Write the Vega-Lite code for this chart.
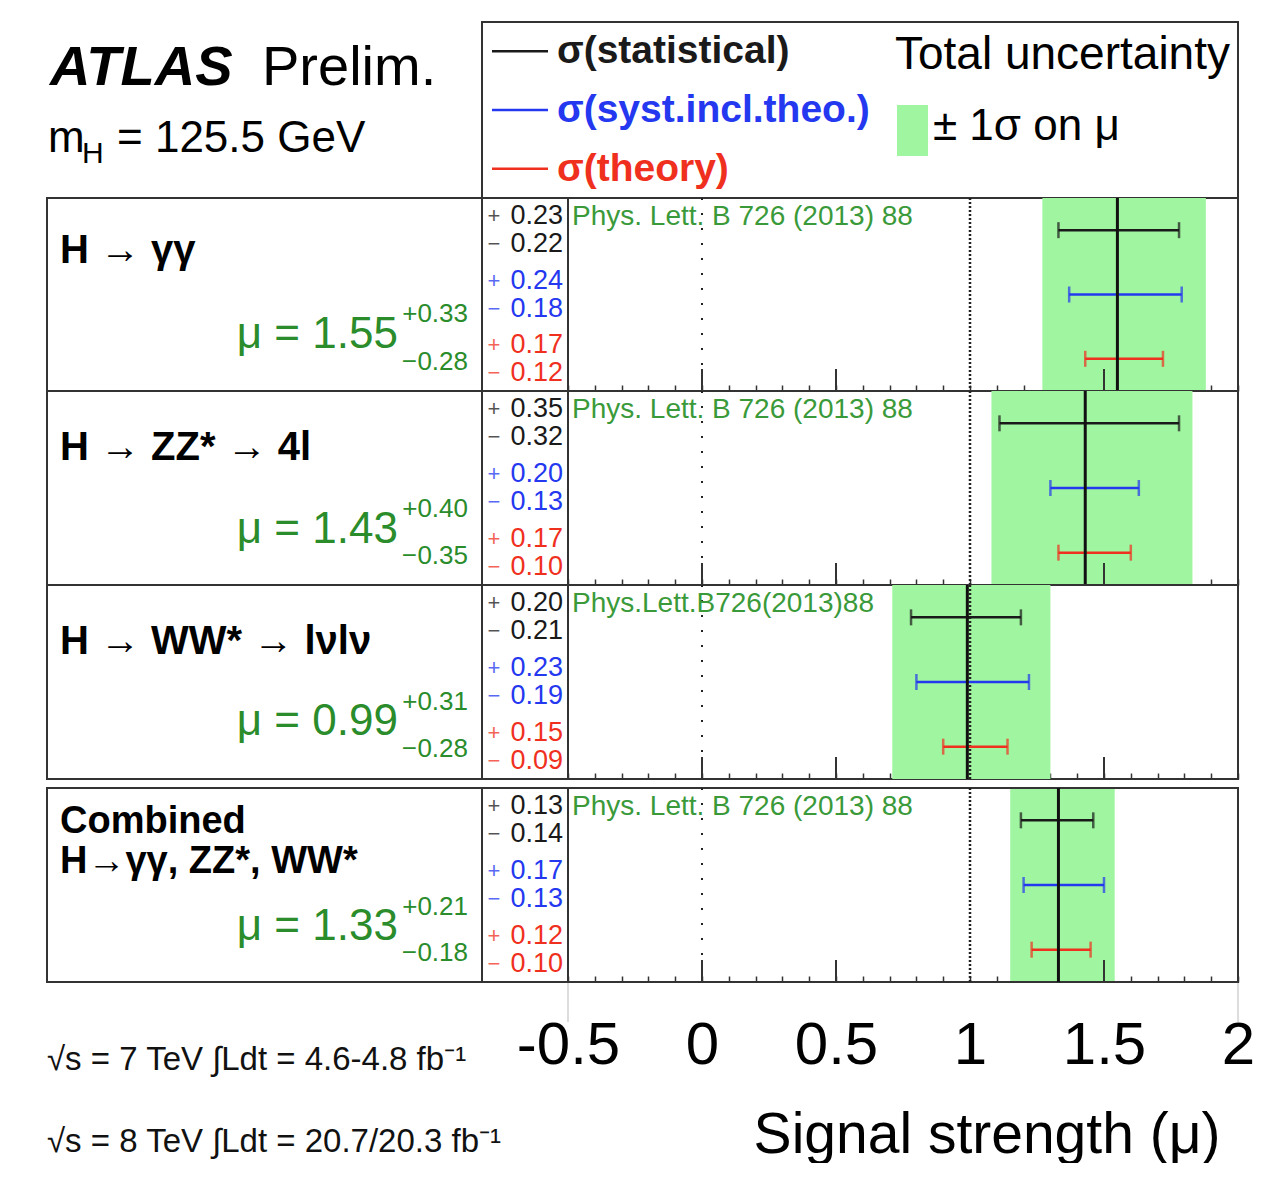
{
"$schema": "https://vega.github.io/schema/vega-lite/v6.json",
"background": "white",
"padding": {"left": 46, "top": 21, "right": 0, "bottom": 0},
"config": {"font": "Liberation Sans", "view": {"stroke": "#333", "strokeWidth": 2}},
"datasets": {
 "mu": [
  {"ch": "gg", "label": "H → γγ", "mu": 1.55, "up": 0.33, "dn": 0.28, "lo": 1.27, "hi": 1.88, "ref": "Phys. Lett. B 726 (2013) 88"},
  {"ch": "zz", "label": "H → ZZ* → 4l", "mu": 1.43, "up": 0.40, "dn": 0.35, "lo": 1.08, "hi": 1.83, "ref": "Phys. Lett. B 726 (2013) 88"},
  {"ch": "ww", "label": "H → WW* → lνlν", "mu": 0.99, "up": 0.31, "dn": 0.28, "lo": 0.71, "hi": 1.30, "ref": "Phys.Lett.B726(2013)88"},
  {"ch": "comb", "label": ["Combined", "H→γγ, ZZ*, WW*"], "mu": 1.33, "up": 0.21, "dn": 0.18, "lo": 1.15, "hi": 1.54, "ref": "Phys. Lett. B 726 (2013) 88"}
 ],
 "err": [
  {"ch": "gg", "type": "stat", "up": 0.23, "dn": 0.22, "lo": 1.33, "hi": 1.78},
  {"ch": "gg", "type": "syst", "up": 0.24, "dn": 0.18, "lo": 1.37, "hi": 1.79},
  {"ch": "gg", "type": "theory", "up": 0.17, "dn": 0.12, "lo": 1.43, "hi": 1.72},
  {"ch": "zz", "type": "stat", "up": 0.35, "dn": 0.32, "lo": 1.11, "hi": 1.78},
  {"ch": "zz", "type": "syst", "up": 0.20, "dn": 0.13, "lo": 1.30, "hi": 1.63},
  {"ch": "zz", "type": "theory", "up": 0.17, "dn": 0.10, "lo": 1.33, "hi": 1.60},
  {"ch": "ww", "type": "stat", "up": 0.20, "dn": 0.21, "lo": 0.78, "hi": 1.19},
  {"ch": "ww", "type": "syst", "up": 0.23, "dn": 0.19, "lo": 0.80, "hi": 1.22},
  {"ch": "ww", "type": "theory", "up": 0.15, "dn": 0.09, "lo": 0.90, "hi": 1.14},
  {"ch": "comb", "type": "stat", "up": 0.13, "dn": 0.14, "lo": 1.19, "hi": 1.46},
  {"ch": "comb", "type": "syst", "up": 0.17, "dn": 0.13, "lo": 1.20, "hi": 1.50},
  {"ch": "comb", "type": "theory", "up": 0.12, "dn": 0.10, "lo": 1.23, "hi": 1.45}
 ],
 "legend": [
  {"type": "stat", "name": "σ(statistical)"},
  {"type": "syst", "name": "σ(syst.incl.theo.)"},
  {"type": "theory", "name": "σ(theory)"}
 ]
},
"spacing": 0,
"bounds": "flush",
"vconcat": [
 {"width": 1191, "height": 176, "view": {"stroke": null},
  "layer": [
   {"data": {"values": [{}]}, "mark": {"type": "rect", "fill": null, "stroke": "#333", "strokeWidth": 2}, "encoding": {"x": {"value": 435}, "x2": {"value": 1191}, "y": {"value": 0}, "y2": {"value": 176}}},
   {"data": {"values": [{}]}, "mark": {"type": "text", "text": "ATLAS", "fontSize": 56, "fontWeight": "bold", "fontStyle": "italic", "align": "left", "baseline": "alphabetic", "color": "black"}, "encoding": {"x": {"value": 3}, "y": {"value": 63}}},
   {"data": {"values": [{}]}, "mark": {"type": "text", "text": "Prelim.", "fontSize": 56, "align": "left", "baseline": "alphabetic", "color": "black"}, "encoding": {"x": {"value": 215}, "y": {"value": 63}}},
   {"data": {"values": [{}]}, "mark": {"type": "text", "text": "m", "fontSize": 44, "align": "left", "baseline": "alphabetic", "color": "black"}, "encoding": {"x": {"value": 1}, "y": {"value": 130}}},
   {"data": {"values": [{}]}, "mark": {"type": "text", "text": "H", "fontSize": 30, "align": "left", "baseline": "alphabetic", "color": "black"}, "encoding": {"x": {"value": 35}, "y": {"value": 141}}},
   {"data": {"values": [{}]}, "mark": {"type": "text", "text": "= 125.5 GeV", "fontSize": 44, "align": "left", "baseline": "alphabetic", "color": "black"}, "encoding": {"x": {"value": 70}, "y": {"value": 130}}},
   {"data": {"name": "legend"}, "mark": {"type": "rule", "strokeWidth": 2.5}, "encoding": {"x": {"value": 445}, "x2": {"value": 501}, "y": {"field": "type", "type": "nominal", "scale": {"domain": ["stat", "syst", "theory"], "paddingInner": 0, "paddingOuter": 0}, "axis": null}, "color": {"field": "type", "type": "nominal", "scale": {"domain": ["stat", "syst", "theory"], "range": ["#1a1a1a", "#2438f0", "#f0301e"]}, "legend": null}}},
   {"data": {"name": "legend"}, "mark": {"type": "text", "fontSize": 39, "fontWeight": "bold", "align": "left", "baseline": "middle"}, "encoding": {"x": {"value": 510}, "y": {"field": "type", "type": "nominal", "axis": null}, "text": {"field": "name"}, "color": {"field": "type", "type": "nominal", "legend": null}}},
   {"data": {"values": [{}]}, "mark": {"type": "text", "text": "Total uncertainty", "fontSize": 46, "align": "left", "baseline": "middle", "color": "black"}, "encoding": {"x": {"value": 848}, "y": {"value": 33}}},
   {"data": {"values": [{}]}, "mark": {"type": "rect", "color": "#a0f5a0"}, "encoding": {"x": {"value": 850}, "x2": {"value": 881}, "y": {"value": 83}, "y2": {"value": 134}}},
   {"data": {"values": [{}]}, "mark": {"type": "text", "text": "± 1σ on μ", "fontSize": 44, "align": "left", "baseline": "middle", "color": "black"}, "encoding": {"x": {"value": 886}, "y": {"value": 105}}}
  ]},
 {"width": 1191, "height": 193,
  "layer": [
   {"data": {"name": "mu"}, "transform": [{"filter": "datum.ch === 'gg'"}], "mark": {"type": "rect", "color": "#a0f5a0"}, "encoding": {"x": {"field": "lo", "type": "quantitative", "scale": {"domain": [-0.5, 2], "range": [521, 1191], "nice": false, "zero": false}, "axis": {"orient": "bottom", "values": [-0.5,-0.4,-0.3,-0.2,-0.1,0,0.1,0.2,0.3,0.4,0.5,0.6,0.7,0.8,0.9,1,1.1,1.2,1.3,1.4,1.5,1.6,1.7,1.8,1.9,2], "tickCount": 30, "tickSize": -6, "tickWidth": 1.5, "tickColor": "#333", "labels": false, "domain": false, "grid": false, "title": null}}, "x2": {"field": "hi"}}},
   {"data": {"values": [{}]}, "mark": {"type": "rule", "color": "#333", "strokeWidth": 2}, "encoding": {"x": {"value": 435}, "y": {"value": 0}, "y2": {"value": 193}}},
   {"data": {"values": [{}]}, "mark": {"type": "rule", "color": "#333", "strokeWidth": 2}, "encoding": {"x": {"value": 521}, "y": {"value": 0}, "y2": {"value": 193}}},
   {"data": {"values": [{}]}, "mark": {"type": "rule", "color": "#222", "strokeWidth": 2, "strokeDash": [2, 13]}, "encoding": {"x": {"datum": 0, "type": "quantitative"}}},
   {"data": {"values": [{}]}, "mark": {"type": "rule", "color": "#333", "strokeWidth": 2}, "encoding": {"x": {"datum": 0, "type": "quantitative"}, "y": {"value": 171}, "y2": {"value": 193}}},
   {"data": {"values": [{}]}, "mark": {"type": "rule", "color": "#333", "strokeWidth": 2}, "encoding": {"x": {"datum": 0.5, "type": "quantitative"}, "y": {"value": 171}, "y2": {"value": 193}}},
   {"data": {"values": [{}]}, "mark": {"type": "rule", "color": "#333", "strokeWidth": 2}, "encoding": {"x": {"datum": 1.5, "type": "quantitative"}, "y": {"value": 171}, "y2": {"value": 193}}},
   {"data": {"values": [{}]}, "mark": {"type": "rule", "color": "#222", "strokeWidth": 2.5, "strokeDash": [2, 2]}, "encoding": {"x": {"datum": 1, "type": "quantitative"}}},
   {"data": {"name": "err"}, "transform": [{"filter": "datum.ch === 'gg'"}], "mark": {"type": "rule", "strokeWidth": 2.5}, "encoding": {"x": {"field": "lo", "type": "quantitative"}, "x2": {"field": "hi"}, "y": {"field": "type", "type": "nominal", "scale": {"domain": ["stat", "syst", "theory"], "paddingInner": 0, "paddingOuter": 0}, "axis": null}, "color": {"field": "type", "type": "nominal", "scale": {"domain": ["stat", "syst", "theory"], "range": ["#1a1a1a", "#2438f0", "#f0301e"]}, "legend": null}}},
   {"data": {"name": "err"}, "transform": [{"filter": "datum.ch === 'gg'"}], "mark": {"type": "tick", "thickness": 2.5, "size": 16}, "encoding": {"x": {"field": "lo", "type": "quantitative"}, "y": {"field": "type", "type": "nominal", "axis": null}, "color": {"field": "type", "type": "nominal", "legend": null}}},
   {"data": {"name": "err"}, "transform": [{"filter": "datum.ch === 'gg'"}], "mark": {"type": "tick", "thickness": 2.5, "size": 16}, "encoding": {"x": {"field": "hi", "type": "quantitative"}, "y": {"field": "type", "type": "nominal", "axis": null}, "color": {"field": "type", "type": "nominal", "legend": null}}},
   {"data": {"name": "mu"}, "transform": [{"filter": "datum.ch === 'gg'"}], "mark": {"type": "rule", "color": "#111", "strokeWidth": 3}, "encoding": {"x": {"field": "mu", "type": "quantitative"}}},
   {"data": {"name": "mu"}, "transform": [{"filter": "datum.ch === 'gg'"}], "mark": {"type": "text", "align": "left", "baseline": "middle", "dx": 4, "fontSize": 28, "color": "#3a9a3a"}, "encoding": {"x": {"datum": -0.5, "type": "quantitative"}, "y": {"value": 19}, "text": {"field": "ref"}}},
   {"data": {"name": "err"}, "transform": [{"filter": "datum.ch === 'gg'"}], "mark": {"type": "text", "align": "center", "baseline": "middle", "fontSize": 22, "opacity": 0.75, "dy": -14}, "encoding": {"x": {"value": 447}, "y": {"field": "type", "type": "nominal", "axis": null}, "text": {"value": "+"}, "color": {"field": "type", "type": "nominal", "legend": null}}},
   {"data": {"name": "err"}, "transform": [{"filter": "datum.ch === 'gg'"}], "mark": {"type": "text", "align": "center", "baseline": "middle", "fontSize": 22, "opacity": 0.75, "dy": 14}, "encoding": {"x": {"value": 447}, "y": {"field": "type", "type": "nominal", "axis": null}, "text": {"value": "−"}, "color": {"field": "type", "type": "nominal", "legend": null}}},
   {"data": {"name": "err"}, "transform": [{"filter": "datum.ch === 'gg'"}], "mark": {"type": "text", "align": "right", "baseline": "middle", "fontSize": 27, "dy": -14}, "encoding": {"x": {"value": 516}, "y": {"field": "type", "type": "nominal", "axis": null}, "text": {"field": "up", "type": "quantitative", "format": ".2f"}, "color": {"field": "type", "type": "nominal", "legend": null}}},
   {"data": {"name": "err"}, "transform": [{"filter": "datum.ch === 'gg'"}], "mark": {"type": "text", "align": "right", "baseline": "middle", "fontSize": 27, "dy": 14}, "encoding": {"x": {"value": 516}, "y": {"field": "type", "type": "nominal", "axis": null}, "text": {"field": "dn", "type": "quantitative", "format": ".2f"}, "color": {"field": "type", "type": "nominal", "legend": null}}},
   {"data": {"name": "mu"}, "transform": [{"filter": "datum.ch === 'gg'"}], "mark": {"type": "text", "align": "left", "baseline": "alphabetic", "fontSize": 40, "fontWeight": "bold", "color": "black", "lineHeight": 40}, "encoding": {"x": {"value": 13}, "y": {"value": 65}, "text": {"field": "label"}}},
   {"data": {"name": "mu"}, "transform": [{"filter": "datum.ch === 'gg'"}], "mark": {"type": "text", "align": "right", "baseline": "alphabetic", "fontSize": 44, "color": "#2a8c2a"}, "encoding": {"x": {"value": 253}, "y": {"value": 150}, "text": {"value": "μ ="}}},
   {"data": {"name": "mu"}, "transform": [{"filter": "datum.ch === 'gg'"}], "mark": {"type": "text", "align": "right", "baseline": "alphabetic", "fontSize": 44, "color": "#2a8c2a"}, "encoding": {"x": {"value": 351}, "y": {"value": 150}, "text": {"field": "mu", "type": "quantitative", "format": ".2f"}}},
   {"data": {"name": "mu"}, "transform": [{"filter": "datum.ch === 'gg'"}], "mark": {"type": "text", "align": "right", "baseline": "alphabetic", "fontSize": 26, "color": "#2a8c2a"}, "encoding": {"x": {"value": 421}, "y": {"value": 124}, "text": {"field": "up", "type": "quantitative", "format": "+.2f"}}},
   {"data": {"name": "mu"}, "transform": [{"filter": "datum.ch === 'gg'"}], "mark": {"type": "text", "align": "right", "baseline": "alphabetic", "fontSize": 26, "color": "#2a8c2a"}, "encoding": {"x": {"value": 421}, "y": {"value": 172}, "text": {"field": "dn", "type": "quantitative", "format": ".2f"}}},
   {"data": {"name": "mu"}, "transform": [{"filter": "datum.ch === 'gg'"}], "mark": {"type": "text", "align": "right", "baseline": "alphabetic", "fontSize": 26, "color": "#2a8c2a"}, "encoding": {"x": {"value": 370}, "y": {"value": 172}, "text": {"value": "−"}}}
  ]},
 {"width": 1191, "height": 194,
  "layer": [
   {"data": {"name": "mu"}, "transform": [{"filter": "datum.ch === 'zz'"}], "mark": {"type": "rect", "color": "#a0f5a0"}, "encoding": {"x": {"field": "lo", "type": "quantitative", "scale": {"domain": [-0.5, 2], "range": [521, 1191], "nice": false, "zero": false}, "axis": {"orient": "bottom", "values": [-0.5,-0.4,-0.3,-0.2,-0.1,0,0.1,0.2,0.3,0.4,0.5,0.6,0.7,0.8,0.9,1,1.1,1.2,1.3,1.4,1.5,1.6,1.7,1.8,1.9,2], "tickCount": 30, "tickSize": -6, "tickWidth": 1.5, "tickColor": "#333", "labels": false, "domain": false, "grid": false, "title": null}}, "x2": {"field": "hi"}}},
   {"data": {"values": [{}]}, "mark": {"type": "rule", "color": "#333", "strokeWidth": 2}, "encoding": {"x": {"value": 435}, "y": {"value": 0}, "y2": {"value": 194}}},
   {"data": {"values": [{}]}, "mark": {"type": "rule", "color": "#333", "strokeWidth": 2}, "encoding": {"x": {"value": 521}, "y": {"value": 0}, "y2": {"value": 194}}},
   {"data": {"values": [{}]}, "mark": {"type": "rule", "color": "#222", "strokeWidth": 2, "strokeDash": [2, 13]}, "encoding": {"x": {"datum": 0, "type": "quantitative"}}},
   {"data": {"values": [{}]}, "mark": {"type": "rule", "color": "#333", "strokeWidth": 2}, "encoding": {"x": {"datum": 0, "type": "quantitative"}, "y": {"value": 172}, "y2": {"value": 194}}},
   {"data": {"values": [{}]}, "mark": {"type": "rule", "color": "#333", "strokeWidth": 2}, "encoding": {"x": {"datum": 0.5, "type": "quantitative"}, "y": {"value": 172}, "y2": {"value": 194}}},
   {"data": {"values": [{}]}, "mark": {"type": "rule", "color": "#333", "strokeWidth": 2}, "encoding": {"x": {"datum": 1.5, "type": "quantitative"}, "y": {"value": 172}, "y2": {"value": 194}}},
   {"data": {"values": [{}]}, "mark": {"type": "rule", "color": "#222", "strokeWidth": 2.5, "strokeDash": [2, 2]}, "encoding": {"x": {"datum": 1, "type": "quantitative"}}},
   {"data": {"name": "err"}, "transform": [{"filter": "datum.ch === 'zz'"}], "mark": {"type": "rule", "strokeWidth": 2.5}, "encoding": {"x": {"field": "lo", "type": "quantitative"}, "x2": {"field": "hi"}, "y": {"field": "type", "type": "nominal", "scale": {"domain": ["stat", "syst", "theory"], "paddingInner": 0, "paddingOuter": 0}, "axis": null}, "color": {"field": "type", "type": "nominal", "scale": {"domain": ["stat", "syst", "theory"], "range": ["#1a1a1a", "#2438f0", "#f0301e"]}, "legend": null}}},
   {"data": {"name": "err"}, "transform": [{"filter": "datum.ch === 'zz'"}], "mark": {"type": "tick", "thickness": 2.5, "size": 16}, "encoding": {"x": {"field": "lo", "type": "quantitative"}, "y": {"field": "type", "type": "nominal", "axis": null}, "color": {"field": "type", "type": "nominal", "legend": null}}},
   {"data": {"name": "err"}, "transform": [{"filter": "datum.ch === 'zz'"}], "mark": {"type": "tick", "thickness": 2.5, "size": 16}, "encoding": {"x": {"field": "hi", "type": "quantitative"}, "y": {"field": "type", "type": "nominal", "axis": null}, "color": {"field": "type", "type": "nominal", "legend": null}}},
   {"data": {"name": "mu"}, "transform": [{"filter": "datum.ch === 'zz'"}], "mark": {"type": "rule", "color": "#111", "strokeWidth": 3}, "encoding": {"x": {"field": "mu", "type": "quantitative"}}},
   {"data": {"name": "mu"}, "transform": [{"filter": "datum.ch === 'zz'"}], "mark": {"type": "text", "align": "left", "baseline": "middle", "dx": 4, "fontSize": 28, "color": "#3a9a3a"}, "encoding": {"x": {"datum": -0.5, "type": "quantitative"}, "y": {"value": 19}, "text": {"field": "ref"}}},
   {"data": {"name": "err"}, "transform": [{"filter": "datum.ch === 'zz'"}], "mark": {"type": "text", "align": "center", "baseline": "middle", "fontSize": 22, "opacity": 0.75, "dy": -14}, "encoding": {"x": {"value": 447}, "y": {"field": "type", "type": "nominal", "axis": null}, "text": {"value": "+"}, "color": {"field": "type", "type": "nominal", "legend": null}}},
   {"data": {"name": "err"}, "transform": [{"filter": "datum.ch === 'zz'"}], "mark": {"type": "text", "align": "center", "baseline": "middle", "fontSize": 22, "opacity": 0.75, "dy": 14}, "encoding": {"x": {"value": 447}, "y": {"field": "type", "type": "nominal", "axis": null}, "text": {"value": "−"}, "color": {"field": "type", "type": "nominal", "legend": null}}},
   {"data": {"name": "err"}, "transform": [{"filter": "datum.ch === 'zz'"}], "mark": {"type": "text", "align": "right", "baseline": "middle", "fontSize": 27, "dy": -14}, "encoding": {"x": {"value": 516}, "y": {"field": "type", "type": "nominal", "axis": null}, "text": {"field": "up", "type": "quantitative", "format": ".2f"}, "color": {"field": "type", "type": "nominal", "legend": null}}},
   {"data": {"name": "err"}, "transform": [{"filter": "datum.ch === 'zz'"}], "mark": {"type": "text", "align": "right", "baseline": "middle", "fontSize": 27, "dy": 14}, "encoding": {"x": {"value": 516}, "y": {"field": "type", "type": "nominal", "axis": null}, "text": {"field": "dn", "type": "quantitative", "format": ".2f"}, "color": {"field": "type", "type": "nominal", "legend": null}}},
   {"data": {"name": "mu"}, "transform": [{"filter": "datum.ch === 'zz'"}], "mark": {"type": "text", "align": "left", "baseline": "alphabetic", "fontSize": 40, "fontWeight": "bold", "color": "black", "lineHeight": 40}, "encoding": {"x": {"value": 13}, "y": {"value": 69}, "text": {"field": "label"}}},
   {"data": {"name": "mu"}, "transform": [{"filter": "datum.ch === 'zz'"}], "mark": {"type": "text", "align": "right", "baseline": "alphabetic", "fontSize": 44, "color": "#2a8c2a"}, "encoding": {"x": {"value": 253}, "y": {"value": 152}, "text": {"value": "μ ="}}},
   {"data": {"name": "mu"}, "transform": [{"filter": "datum.ch === 'zz'"}], "mark": {"type": "text", "align": "right", "baseline": "alphabetic", "fontSize": 44, "color": "#2a8c2a"}, "encoding": {"x": {"value": 351}, "y": {"value": 152}, "text": {"field": "mu", "type": "quantitative", "format": ".2f"}}},
   {"data": {"name": "mu"}, "transform": [{"filter": "datum.ch === 'zz'"}], "mark": {"type": "text", "align": "right", "baseline": "alphabetic", "fontSize": 26, "color": "#2a8c2a"}, "encoding": {"x": {"value": 421}, "y": {"value": 126}, "text": {"field": "up", "type": "quantitative", "format": "+.2f"}}},
   {"data": {"name": "mu"}, "transform": [{"filter": "datum.ch === 'zz'"}], "mark": {"type": "text", "align": "right", "baseline": "alphabetic", "fontSize": 26, "color": "#2a8c2a"}, "encoding": {"x": {"value": 421}, "y": {"value": 173}, "text": {"field": "dn", "type": "quantitative", "format": ".2f"}}},
   {"data": {"name": "mu"}, "transform": [{"filter": "datum.ch === 'zz'"}], "mark": {"type": "text", "align": "right", "baseline": "alphabetic", "fontSize": 26, "color": "#2a8c2a"}, "encoding": {"x": {"value": 370}, "y": {"value": 173}, "text": {"value": "−"}}}
  ]},
 {"width": 1191, "height": 194,
  "layer": [
   {"data": {"name": "mu"}, "transform": [{"filter": "datum.ch === 'ww'"}], "mark": {"type": "rect", "color": "#a0f5a0"}, "encoding": {"x": {"field": "lo", "type": "quantitative", "scale": {"domain": [-0.5, 2], "range": [521, 1191], "nice": false, "zero": false}, "axis": {"orient": "bottom", "values": [-0.5,-0.4,-0.3,-0.2,-0.1,0,0.1,0.2,0.3,0.4,0.5,0.6,0.7,0.8,0.9,1,1.1,1.2,1.3,1.4,1.5,1.6,1.7,1.8,1.9,2], "tickCount": 30, "tickSize": -6, "tickWidth": 1.5, "tickColor": "#333", "labels": false, "domain": false, "grid": false, "title": null}}, "x2": {"field": "hi"}}},
   {"data": {"values": [{}]}, "mark": {"type": "rule", "color": "#333", "strokeWidth": 2}, "encoding": {"x": {"value": 435}, "y": {"value": 0}, "y2": {"value": 194}}},
   {"data": {"values": [{}]}, "mark": {"type": "rule", "color": "#333", "strokeWidth": 2}, "encoding": {"x": {"value": 521}, "y": {"value": 0}, "y2": {"value": 194}}},
   {"data": {"values": [{}]}, "mark": {"type": "rule", "color": "#222", "strokeWidth": 2, "strokeDash": [2, 13]}, "encoding": {"x": {"datum": 0, "type": "quantitative"}}},
   {"data": {"values": [{}]}, "mark": {"type": "rule", "color": "#333", "strokeWidth": 2}, "encoding": {"x": {"datum": 0, "type": "quantitative"}, "y": {"value": 172}, "y2": {"value": 194}}},
   {"data": {"values": [{}]}, "mark": {"type": "rule", "color": "#333", "strokeWidth": 2}, "encoding": {"x": {"datum": 0.5, "type": "quantitative"}, "y": {"value": 172}, "y2": {"value": 194}}},
   {"data": {"values": [{}]}, "mark": {"type": "rule", "color": "#333", "strokeWidth": 2}, "encoding": {"x": {"datum": 1.5, "type": "quantitative"}, "y": {"value": 172}, "y2": {"value": 194}}},
   {"data": {"values": [{}]}, "mark": {"type": "rule", "color": "#222", "strokeWidth": 2.5, "strokeDash": [2, 2]}, "encoding": {"x": {"datum": 1, "type": "quantitative"}}},
   {"data": {"name": "err"}, "transform": [{"filter": "datum.ch === 'ww'"}], "mark": {"type": "rule", "strokeWidth": 2.5}, "encoding": {"x": {"field": "lo", "type": "quantitative"}, "x2": {"field": "hi"}, "y": {"field": "type", "type": "nominal", "scale": {"domain": ["stat", "syst", "theory"], "paddingInner": 0, "paddingOuter": 0}, "axis": null}, "color": {"field": "type", "type": "nominal", "scale": {"domain": ["stat", "syst", "theory"], "range": ["#1a1a1a", "#2438f0", "#f0301e"]}, "legend": null}}},
   {"data": {"name": "err"}, "transform": [{"filter": "datum.ch === 'ww'"}], "mark": {"type": "tick", "thickness": 2.5, "size": 16}, "encoding": {"x": {"field": "lo", "type": "quantitative"}, "y": {"field": "type", "type": "nominal", "axis": null}, "color": {"field": "type", "type": "nominal", "legend": null}}},
   {"data": {"name": "err"}, "transform": [{"filter": "datum.ch === 'ww'"}], "mark": {"type": "tick", "thickness": 2.5, "size": 16}, "encoding": {"x": {"field": "hi", "type": "quantitative"}, "y": {"field": "type", "type": "nominal", "axis": null}, "color": {"field": "type", "type": "nominal", "legend": null}}},
   {"data": {"name": "mu"}, "transform": [{"filter": "datum.ch === 'ww'"}], "mark": {"type": "rule", "color": "#111", "strokeWidth": 3}, "encoding": {"x": {"field": "mu", "type": "quantitative"}}},
   {"data": {"name": "mu"}, "transform": [{"filter": "datum.ch === 'ww'"}], "mark": {"type": "text", "align": "left", "baseline": "middle", "dx": 4, "fontSize": 28, "color": "#3a9a3a"}, "encoding": {"x": {"datum": -0.5, "type": "quantitative"}, "y": {"value": 19}, "text": {"field": "ref"}}},
   {"data": {"name": "err"}, "transform": [{"filter": "datum.ch === 'ww'"}], "mark": {"type": "text", "align": "center", "baseline": "middle", "fontSize": 22, "opacity": 0.75, "dy": -14}, "encoding": {"x": {"value": 447}, "y": {"field": "type", "type": "nominal", "axis": null}, "text": {"value": "+"}, "color": {"field": "type", "type": "nominal", "legend": null}}},
   {"data": {"name": "err"}, "transform": [{"filter": "datum.ch === 'ww'"}], "mark": {"type": "text", "align": "center", "baseline": "middle", "fontSize": 22, "opacity": 0.75, "dy": 14}, "encoding": {"x": {"value": 447}, "y": {"field": "type", "type": "nominal", "axis": null}, "text": {"value": "−"}, "color": {"field": "type", "type": "nominal", "legend": null}}},
   {"data": {"name": "err"}, "transform": [{"filter": "datum.ch === 'ww'"}], "mark": {"type": "text", "align": "right", "baseline": "middle", "fontSize": 27, "dy": -14}, "encoding": {"x": {"value": 516}, "y": {"field": "type", "type": "nominal", "axis": null}, "text": {"field": "up", "type": "quantitative", "format": ".2f"}, "color": {"field": "type", "type": "nominal", "legend": null}}},
   {"data": {"name": "err"}, "transform": [{"filter": "datum.ch === 'ww'"}], "mark": {"type": "text", "align": "right", "baseline": "middle", "fontSize": 27, "dy": 14}, "encoding": {"x": {"value": 516}, "y": {"field": "type", "type": "nominal", "axis": null}, "text": {"field": "dn", "type": "quantitative", "format": ".2f"}, "color": {"field": "type", "type": "nominal", "legend": null}}},
   {"data": {"name": "mu"}, "transform": [{"filter": "datum.ch === 'ww'"}], "mark": {"type": "text", "align": "left", "baseline": "alphabetic", "fontSize": 40, "fontWeight": "bold", "color": "black", "lineHeight": 40}, "encoding": {"x": {"value": 13}, "y": {"value": 69}, "text": {"field": "label"}}},
   {"data": {"name": "mu"}, "transform": [{"filter": "datum.ch === 'ww'"}], "mark": {"type": "text", "align": "right", "baseline": "alphabetic", "fontSize": 44, "color": "#2a8c2a"}, "encoding": {"x": {"value": 253}, "y": {"value": 150}, "text": {"value": "μ ="}}},
   {"data": {"name": "mu"}, "transform": [{"filter": "datum.ch === 'ww'"}], "mark": {"type": "text", "align": "right", "baseline": "alphabetic", "fontSize": 44, "color": "#2a8c2a"}, "encoding": {"x": {"value": 351}, "y": {"value": 150}, "text": {"field": "mu", "type": "quantitative", "format": ".2f"}}},
   {"data": {"name": "mu"}, "transform": [{"filter": "datum.ch === 'ww'"}], "mark": {"type": "text", "align": "right", "baseline": "alphabetic", "fontSize": 26, "color": "#2a8c2a"}, "encoding": {"x": {"value": 421}, "y": {"value": 125}, "text": {"field": "up", "type": "quantitative", "format": "+.2f"}}},
   {"data": {"name": "mu"}, "transform": [{"filter": "datum.ch === 'ww'"}], "mark": {"type": "text", "align": "right", "baseline": "alphabetic", "fontSize": 26, "color": "#2a8c2a"}, "encoding": {"x": {"value": 421}, "y": {"value": 172}, "text": {"field": "dn", "type": "quantitative", "format": ".2f"}}},
   {"data": {"name": "mu"}, "transform": [{"filter": "datum.ch === 'ww'"}], "mark": {"type": "text", "align": "right", "baseline": "alphabetic", "fontSize": 26, "color": "#2a8c2a"}, "encoding": {"x": {"value": 370}, "y": {"value": 172}, "text": {"value": "−"}}}
  ]},
 {"width": 1191, "height": 203, "view": {"stroke": null},
  "layer": [
   {"data": {"name": "mu"}, "transform": [{"filter": "datum.ch === 'comb'"}], "mark": {"type": "rect", "color": "#a0f5a0"}, "encoding": {"x": {"field": "lo", "type": "quantitative", "scale": {"domain": [-0.5, 2], "range": [521, 1191], "nice": false, "zero": false}, "axis": {"orient": "bottom", "values": [-0.5,-0.4,-0.3,-0.2,-0.1,0,0.1,0.2,0.3,0.4,0.5,0.6,0.7,0.8,0.9,1,1.1,1.2,1.3,1.4,1.5,1.6,1.7,1.8,1.9,2], "tickCount": 30, "tickSize": -6, "tickWidth": 1.5, "tickColor": "#333", "labels": true, "labelExpr": "abs(datum.value * 2 - round(datum.value * 2)) < 0.001 ? '' + datum.value : ''", "labelFontSize": 60, "labelPadding": 40, "labelFlush": false, "labelOverlap": false, "labelColor": "black", "labelBaseline": "top", "domain": false, "grid": false, "title": "Signal strength (μ)", "titleFontSize": 57, "titleFontWeight": "normal", "titleColor": "black", "titleX": 1173, "titleY": 170, "titleAlign": "right", "titleBaseline": "alphabetic"}}, "x2": {"field": "hi"}, "y": {"value": 9}, "y2": {"value": 203}}},
   {"data": {"values": [{}]}, "mark": {"type": "rule", "color": "#dddddd", "strokeWidth": 2}, "encoding": {"x": {"value": 521}, "y": {"value": 204}, "y2": {"value": 243}}},
   {"data": {"values": [{}]}, "mark": {"type": "rule", "color": "#dddddd", "strokeWidth": 2}, "encoding": {"x": {"value": 1191}, "y": {"value": 204}, "y2": {"value": 243}}},
   {"data": {"values": [{}]}, "mark": {"type": "rect", "fill": null, "stroke": "#333", "strokeWidth": 2}, "encoding": {"x": {"value": 0}, "x2": {"value": 1191}, "y": {"value": 9}, "y2": {"value": 203}}},
   {"data": {"values": [{}]}, "mark": {"type": "rule", "color": "#333", "strokeWidth": 2}, "encoding": {"x": {"value": 435}, "y": {"value": 9}, "y2": {"value": 203}}},
   {"data": {"values": [{}]}, "mark": {"type": "rule", "color": "#333", "strokeWidth": 2}, "encoding": {"x": {"value": 521}, "y": {"value": 9}, "y2": {"value": 203}}},
   {"data": {"values": [{}]}, "mark": {"type": "rule", "color": "#222", "strokeWidth": 2, "strokeDash": [2, 13]}, "encoding": {"x": {"datum": 0, "type": "quantitative"}, "y": {"value": 9}, "y2": {"value": 203}}},
   {"data": {"values": [{}]}, "mark": {"type": "rule", "color": "#333", "strokeWidth": 2}, "encoding": {"x": {"datum": 0, "type": "quantitative"}, "y": {"value": 181}, "y2": {"value": 203}}},
   {"data": {"values": [{}]}, "mark": {"type": "rule", "color": "#333", "strokeWidth": 2}, "encoding": {"x": {"datum": 0.5, "type": "quantitative"}, "y": {"value": 181}, "y2": {"value": 203}}},
   {"data": {"values": [{}]}, "mark": {"type": "rule", "color": "#333", "strokeWidth": 2}, "encoding": {"x": {"datum": 1.5, "type": "quantitative"}, "y": {"value": 181}, "y2": {"value": 203}}},
   {"data": {"values": [{}]}, "mark": {"type": "rule", "color": "#222", "strokeWidth": 2.5, "strokeDash": [2, 2]}, "encoding": {"x": {"datum": 1, "type": "quantitative"}, "y": {"value": 9}, "y2": {"value": 203}}},
   {"data": {"name": "err"}, "transform": [{"filter": "datum.ch === 'comb'"}], "mark": {"type": "rule", "strokeWidth": 2.5}, "encoding": {"x": {"field": "lo", "type": "quantitative"}, "x2": {"field": "hi"}, "y": {"field": "type", "type": "nominal", "scale": {"domain": ["stat", "syst", "theory"], "range": [9, 203], "paddingInner": 0, "paddingOuter": 0}, "axis": null}, "color": {"field": "type", "type": "nominal", "scale": {"domain": ["stat", "syst", "theory"], "range": ["#1a1a1a", "#2438f0", "#f0301e"]}, "legend": null}}},
   {"data": {"name": "err"}, "transform": [{"filter": "datum.ch === 'comb'"}], "mark": {"type": "tick", "thickness": 2.5, "size": 16}, "encoding": {"x": {"field": "lo", "type": "quantitative"}, "y": {"field": "type", "type": "nominal", "axis": null}, "color": {"field": "type", "type": "nominal", "legend": null}}},
   {"data": {"name": "err"}, "transform": [{"filter": "datum.ch === 'comb'"}], "mark": {"type": "tick", "thickness": 2.5, "size": 16}, "encoding": {"x": {"field": "hi", "type": "quantitative"}, "y": {"field": "type", "type": "nominal", "axis": null}, "color": {"field": "type", "type": "nominal", "legend": null}}},
   {"data": {"name": "mu"}, "transform": [{"filter": "datum.ch === 'comb'"}], "mark": {"type": "rule", "color": "#111", "strokeWidth": 3}, "encoding": {"x": {"field": "mu", "type": "quantitative"}, "y": {"value": 9}, "y2": {"value": 203}}},
   {"data": {"name": "mu"}, "transform": [{"filter": "datum.ch === 'comb'"}], "mark": {"type": "text", "align": "left", "baseline": "middle", "dx": 4, "fontSize": 28, "color": "#3a9a3a"}, "encoding": {"x": {"datum": -0.5, "type": "quantitative"}, "y": {"value": 28}, "text": {"field": "ref"}}},
   {"data": {"name": "err"}, "transform": [{"filter": "datum.ch === 'comb'"}], "mark": {"type": "text", "align": "center", "baseline": "middle", "fontSize": 22, "opacity": 0.75, "dy": -14}, "encoding": {"x": {"value": 447}, "y": {"field": "type", "type": "nominal", "axis": null}, "text": {"value": "+"}, "color": {"field": "type", "type": "nominal", "legend": null}}},
   {"data": {"name": "err"}, "transform": [{"filter": "datum.ch === 'comb'"}], "mark": {"type": "text", "align": "center", "baseline": "middle", "fontSize": 22, "opacity": 0.75, "dy": 14}, "encoding": {"x": {"value": 447}, "y": {"field": "type", "type": "nominal", "axis": null}, "text": {"value": "−"}, "color": {"field": "type", "type": "nominal", "legend": null}}},
   {"data": {"name": "err"}, "transform": [{"filter": "datum.ch === 'comb'"}], "mark": {"type": "text", "align": "right", "baseline": "middle", "fontSize": 27, "dy": -14}, "encoding": {"x": {"value": 516}, "y": {"field": "type", "type": "nominal", "axis": null}, "text": {"field": "up", "type": "quantitative", "format": ".2f"}, "color": {"field": "type", "type": "nominal", "legend": null}}},
   {"data": {"name": "err"}, "transform": [{"filter": "datum.ch === 'comb'"}], "mark": {"type": "text", "align": "right", "baseline": "middle", "fontSize": 27, "dy": 14}, "encoding": {"x": {"value": 516}, "y": {"field": "type", "type": "nominal", "axis": null}, "text": {"field": "dn", "type": "quantitative", "format": ".2f"}, "color": {"field": "type", "type": "nominal", "legend": null}}},
   {"data": {"name": "mu"}, "transform": [{"filter": "datum.ch === 'comb'"}], "mark": {"type": "text", "align": "left", "baseline": "alphabetic", "fontSize": 38, "fontWeight": "bold", "color": "black", "lineHeight": 40}, "encoding": {"x": {"value": 13}, "y": {"value": 54}, "text": {"field": "label"}}},
   {"data": {"name": "mu"}, "transform": [{"filter": "datum.ch === 'comb'"}], "mark": {"type": "text", "align": "right", "baseline": "alphabetic", "fontSize": 44, "color": "#2a8c2a"}, "encoding": {"x": {"value": 253}, "y": {"value": 161}, "text": {"value": "μ ="}}},
   {"data": {"name": "mu"}, "transform": [{"filter": "datum.ch === 'comb'"}], "mark": {"type": "text", "align": "right", "baseline": "alphabetic", "fontSize": 44, "color": "#2a8c2a"}, "encoding": {"x": {"value": 351}, "y": {"value": 161}, "text": {"field": "mu", "type": "quantitative", "format": ".2f"}}},
   {"data": {"name": "mu"}, "transform": [{"filter": "datum.ch === 'comb'"}], "mark": {"type": "text", "align": "right", "baseline": "alphabetic", "fontSize": 26, "color": "#2a8c2a"}, "encoding": {"x": {"value": 421}, "y": {"value": 136}, "text": {"field": "up", "type": "quantitative", "format": "+.2f"}}},
   {"data": {"name": "mu"}, "transform": [{"filter": "datum.ch === 'comb'"}], "mark": {"type": "text", "align": "right", "baseline": "alphabetic", "fontSize": 26, "color": "#2a8c2a"}, "encoding": {"x": {"value": 421}, "y": {"value": 182}, "text": {"field": "dn", "type": "quantitative", "format": ".2f"}}},
   {"data": {"name": "mu"}, "transform": [{"filter": "datum.ch === 'comb'"}], "mark": {"type": "text", "align": "right", "baseline": "alphabetic", "fontSize": 26, "color": "#2a8c2a"}, "encoding": {"x": {"value": 370}, "y": {"value": 182}, "text": {"value": "−"}}},
   {"data": {"values": [{}]}, "mark": {"type": "text", "align": "left", "baseline": "alphabetic", "fontSize": 33, "color": "#111"}, "encoding": {"x": {"value": 0}, "y": {"value": 291}, "text": {"value": "√s = 7 TeV ∫Ldt = 4.6-4.8 fb⁻¹"}}},
   {"data": {"values": [{}]}, "mark": {"type": "text", "align": "left", "baseline": "alphabetic", "fontSize": 33, "color": "#111"}, "encoding": {"x": {"value": 0}, "y": {"value": 373}, "text": {"value": "√s = 8 TeV ∫Ldt = 20.7/20.3 fb⁻¹"}}}
  ]}
]
}
